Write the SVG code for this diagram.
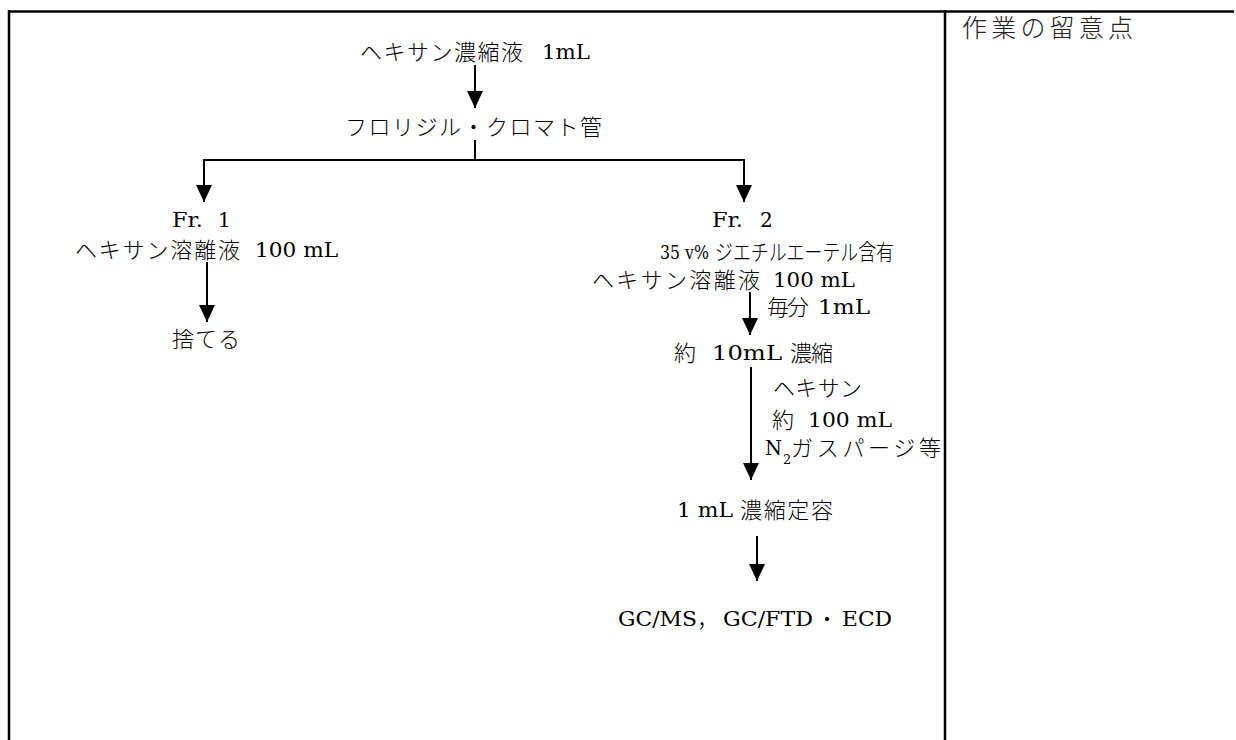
<svg xmlns="http://www.w3.org/2000/svg" width="1236" height="740" viewBox="0 0 1236 740">
<style>
.j{font-family:"Noto Sans CJK JP",sans-serif;font-size:22px;font-weight:300;fill:#000}
.l{font-family:"DejaVu Serif","Liberation Serif",serif;font-size:20px;fill:#000}
.s{font-family:"DejaVu Serif","Liberation Serif",serif;font-size:13px;fill:#000}
.g{font-family:"Noto Sans CJK JP","Liberation Sans",sans-serif;font-size:25px;fill:#222;font-weight:300}
.ln{stroke:#000;stroke-width:2;fill:none}
.bd{stroke:#000;stroke-width:2.5;fill:none}
</style>
<defs>
<marker id="ah" markerUnits="userSpaceOnUse" markerWidth="17" markerHeight="16" viewBox="0 0 17 16" refX="17" refY="8" orient="auto">
<path d="M0,0 L17,8 L0,16 z" fill="#000"/>
</marker>
</defs>
<g id="frame">
<line class="bd" x1="8" y1="11.5" x2="1234" y2="11.5"/>
<line class="bd" x1="9" y1="10" x2="9" y2="740"/>
<line class="bd" x1="945" y1="10" x2="945" y2="740"/>
</g>
<g id="connectors">
<path class="ln" d="M475,65 V108" marker-end="url(#ah)"/>
<path class="ln" d="M475,140 V160 H204 V202" marker-end="url(#ah)"/>
<path class="ln" d="M475,160 H744 V202" marker-end="url(#ah)"/>
<path class="ln" d="M207,262 V322" marker-end="url(#ah)"/>
<path class="ln" d="M750,292 V335" marker-end="url(#ah)"/>
<path class="ln" d="M751,367 V480" marker-end="url(#ah)"/>
<path class="ln" d="M757,536 V581" marker-end="url(#ah)"/>
</g>
<g id="n-start">
<text class="j" x="360" y="60" textLength="163" lengthAdjust="spacing">ヘキサン濃縮液</text>
<text class="l" x="542" y="59" textLength="48" lengthAdjust="spacingAndGlyphs">1mL</text>
</g>
<g id="n-florisil">
<text class="j" x="345" y="135" textLength="257" lengthAdjust="spacing">フロリジル・クロマト管</text>
</g>
<g id="n-fr1">
<text class="l" x="172" y="227" textLength="31" lengthAdjust="spacingAndGlyphs">Fr.</text>
<text class="l" x="218" y="227">1</text>
<text class="j" x="75" y="258" textLength="165" lengthAdjust="spacing">ヘキサン溶離液</text>
<text class="l" x="255" y="257" textLength="83" lengthAdjust="spacingAndGlyphs">100 mL</text>
</g>
<g id="n-discard">
<text class="j" x="172" y="347" textLength="68" lengthAdjust="spacing">捨てる</text>
</g>
<g id="n-fr2">
<text class="l" x="712" y="227" textLength="31" lengthAdjust="spacingAndGlyphs">Fr.</text>
<text class="l" x="760" y="227">2</text>
<text class="l" x="660" y="259" textLength="49" lengthAdjust="spacingAndGlyphs" style="font-size:19px">35 v%</text>
<text class="j" x="715" y="260" textLength="179" lengthAdjust="spacingAndGlyphs">ジエチルエーテル含有</text>
<text class="j" x="592" y="288" textLength="168" lengthAdjust="spacing">ヘキサン溶離液</text>
<text class="l" x="773" y="287" textLength="82" lengthAdjust="spacingAndGlyphs">100 mL</text>
</g>
<g id="l-rate">
<text class="j" x="767" y="315" textLength="42" lengthAdjust="spacing">毎分</text>
<text class="l" x="818" y="314" textLength="52" lengthAdjust="spacingAndGlyphs">1mL</text>
</g>
<g id="n-conc10">
<text class="j" x="674" y="361">約</text>
<text class="l" x="712" y="360" textLength="70" lengthAdjust="spacingAndGlyphs">10mL</text>
<text class="j" x="790" y="361" textLength="43" lengthAdjust="spacing">濃縮</text>
</g>
<g id="l-hexane">
<text class="j" x="773" y="396" textLength="89" lengthAdjust="spacing">ヘキサン</text>
<text class="j" x="772" y="428">約</text>
<text class="l" x="808" y="427" textLength="84" lengthAdjust="spacingAndGlyphs">100 mL</text>
<text class="l" x="765" y="455" textLength="17" lengthAdjust="spacingAndGlyphs">N</text>
<text class="s" x="783" y="464">2</text>
<text class="j" x="791" y="456" textLength="150" lengthAdjust="spacing">ガスパージ等</text>
</g>
<g id="n-conc1">
<text class="l" x="677" y="517" textLength="56" lengthAdjust="spacingAndGlyphs">1 mL</text>
<text class="j" x="740" y="518" textLength="93" lengthAdjust="spacing">濃縮定容</text>
</g>
<g id="n-gc">
<text class="l" x="618" y="626" textLength="79" lengthAdjust="spacingAndGlyphs">GC/MS</text>
<text class="j" x="697" y="627">，</text>
<text class="l" x="723" y="626" textLength="90" lengthAdjust="spacingAndGlyphs">GC/FTD</text>
<text class="j" x="816" y="627">・</text>
<text class="l" x="842" y="626" textLength="50" lengthAdjust="spacingAndGlyphs">ECD</text>
</g>
<g id="h-notes"><text class="g" x="962" y="37" textLength="171" lengthAdjust="spacing">作業の留意点</text></g>
</svg>
